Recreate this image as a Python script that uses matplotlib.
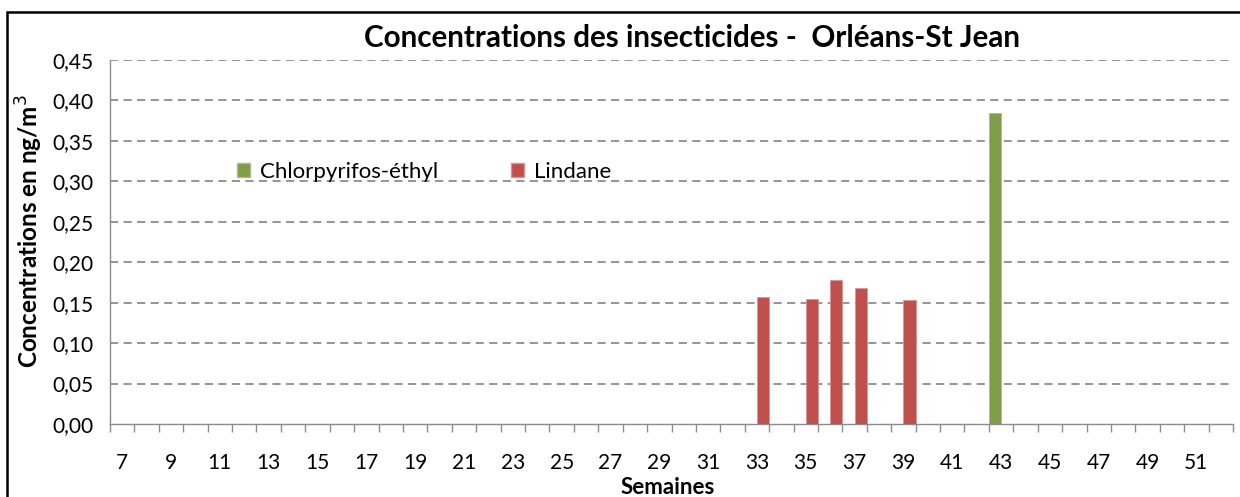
import matplotlib
matplotlib.use("Agg")
import matplotlib.pyplot as plt
from matplotlib.patches import Rectangle, Patch
import numpy as np

weeks = list(range(7, 53))
chlorpyrifos = {43: 0.385}
lindane = {33: 0.157, 35: 0.154, 36: 0.178, 37: 0.168, 39: 0.153}
yticks = [0.00, 0.05, 0.10, 0.15, 0.20, 0.25, 0.30, 0.35, 0.40, 0.45]

green = "#7F9C48"
red = "#C0504D"
grid_c = "#8C8C8C"
FONT = "Lato"

plt.rcParams['font.family'] = [FONT, 'DejaVu Sans']

fig = plt.figure(figsize=(12.4, 4.97), dpi=100)
ax = fig.add_axes([110/1240, 1-424/497, (1233-110)/1240, (424-60)/497])

x = np.arange(len(weeks))
chl_vals = [chlorpyrifos.get(w, 0) for w in weeks]
lin_vals = [lindane.get(w, 0) for w in weeks]
ax.bar(x - 0.25, chl_vals, width=0.5, color=green, edgecolor="#A8BF80", linewidth=0.6, zorder=3)
ax.bar(x + 0.25, lin_vals, width=0.5, color=red, edgecolor="#D99694", linewidth=0.6, zorder=3)

ax.set_xlim(-0.5, len(weeks) - 0.5)
ax.set_ylim(0, 0.45)
ax.set_yticks(yticks)
ax.set_yticklabels([f"{v:.2f}".replace(".", ",") for v in yticks], fontsize=15)
ax.tick_params(axis='y', length=0, pad=12)

ax.set_xticks(x[::2])
ax.set_xticklabels([str(w) for w in weeks[::2]], fontsize=15)
ax.set_xticks(np.arange(-0.5, len(weeks)), minor=True)
ax.tick_params(axis='x', which='major', length=0, pad=21)
ax.tick_params(axis='x', which='minor', length=6, color=grid_c, width=1)

for v in yticks[1:]:
    ax.axhline(v, color=grid_c, linestyle=(0, (4.5, 3)), linewidth=1.3, zorder=1)

for s in ['top', 'right']:
    ax.spines[s].set_visible(False)
for s in ['left', 'bottom']:
    ax.spines[s].set_color(grid_c)
    ax.spines[s].set_linewidth(1)

handles = [Patch(facecolor=green, edgecolor="#A8BF80"), Patch(facecolor=red, edgecolor="#D99694")]
leg = fig.legend(handles, ["Chlorpyrifos-éthyl", "Lindane"], ncol=2, frameon=False,
                 loc='center left', bbox_to_anchor=(237/1240, 1-172/497),
                 fontsize=16, handlelength=0.6, handleheight=0.6, handletextpad=0.45,
                 columnspacing=3.25, borderpad=0, borderaxespad=0)

fig.text(692/1240, 1-38/497, "Concentrations des insecticides -  Orléans-St Jean",
         ha='center', va='center', fontsize=21.3, fontweight='bold')
fig.text(29/1240, 1-231/497, "Concentrations en ng/m$^3$", rotation=90,
         ha='center', va='center', fontsize=17.5, fontweight='bold')
fig.text(668/1240, 1-487/497, "Semaines", ha='center', va='center',
         fontsize=16, fontweight='bold')

fig.patches.append(Rectangle((7/1240, -0.2), 1.2, 1 - 12/497 + 0.2, transform=fig.transFigure,
                             fill=False, edgecolor='black', linewidth=1.8))

fig.savefig("out.png", dpi=100)
